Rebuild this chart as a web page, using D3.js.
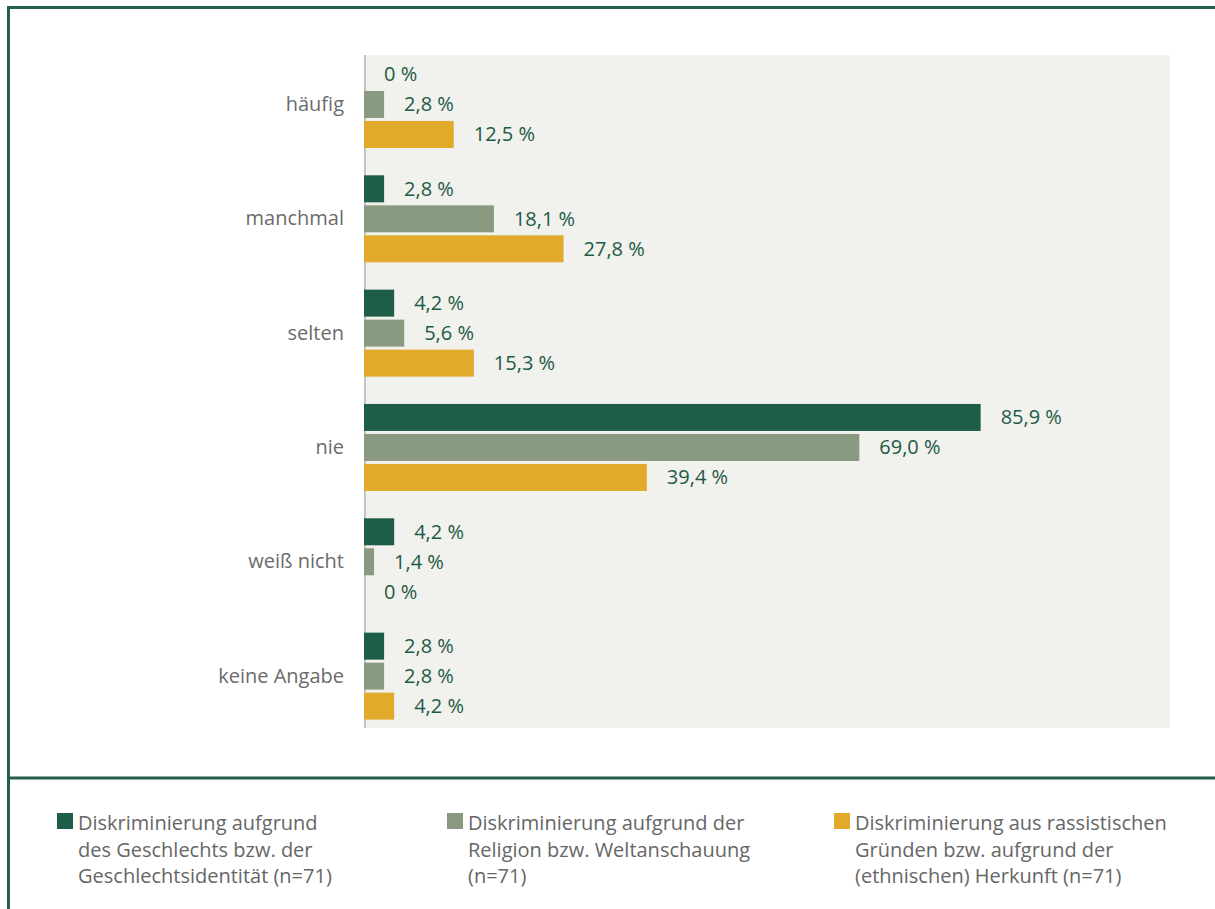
<!DOCTYPE html>
<html>
<head>
<meta charset="utf-8">
<script src="https://cdn.jsdelivr.net/npm/d3@7"></script>
<style>
  body { margin: 0; background: #fff; }
  svg text { font-family: "Open Sans", sans-serif; }
</style>
</head>
<body>
<svg id="chart"></svg>
<script>
const width = 1215, height = 909;

// data
const categories = ["häufig", "manchmal", "selten", "nie", "weiß nicht", "keine Angabe"];
const seriesKeys = ["geschlecht", "religion", "herkunft"];
const geschlecht = [0, 2.8, 4.2, 85.9, 4.2, 2.8];
const religion = [2.8, 18.1, 5.6, 69.0, 1.4, 2.8];
const herkunft = [12.5, 27.8, 15.3, 39.4, 0, 4.2];
const seriesColors = ["#1e5e48", "#8a9a80", "#e2aa2b"];
const legendLabels = [
  ["Diskriminierung aufgrund", "des Geschlechts bzw. der", "Geschlechtsidentität (n=71)"],
  ["Diskriminierung aufgrund der", "Religion bzw. Weltanschauung", "(n=71)"],
  ["Diskriminierung aus rassistischen", "Gründen bzw. aufgrund der", "(ethnischen) Herkunft (n=71)"]
];

const seriesValues = [geschlecht, religion, herkunft];
const rows = [];
categories.forEach((c, i) => {
  seriesKeys.forEach((k, j) => rows.push({ cat: c, key: k, value: seriesValues[j][i], color: seriesColors[j] }));
});

const svg = d3.select("#chart")
  .attr("width", width)
  .attr("height", height);

// frame
const frameColor = "#235f4a";
svg.append("path")
  .attr("d", "M8.5," + height + " V7.5 H" + width)
  .attr("fill", "none")
  .attr("stroke", frameColor)
  .attr("stroke-width", 3);
svg.append("line")
  .attr("x1", 7).attr("x2", width)
  .attr("y1", 778).attr("y2", 778)
  .attr("stroke", frameColor)
  .attr("stroke-width", 3);

// plot area
const plotTop = 55, plotBottom = 728, plotLeft = 364, plotRight = 1170;
svg.append("rect")
  .attr("x", plotLeft).attr("y", plotTop)
  .attr("width", plotRight - plotLeft).attr("height", plotBottom - plotTop)
  .attr("fill", "#f1f1ed");

const x = d3.scaleLinear().domain([0, 112]).range([364, 1168]);
const y = d3.scaleBand().domain(categories).range([47.3, 733.3]);
const ySub = d3.scaleBand().domain(seriesKeys).range([-43.5, 43.5]).paddingInner(0.1);

const fmt = v => v === 0 ? "0 %" : v.toFixed(1).replace(".", ",") + " %";

// axis line (drawn under the bars)
svg.append("line")
  .attr("x1", 365).attr("x2", 365)
  .attr("y1", plotTop).attr("y2", plotBottom)
  .attr("stroke", "#c4c4c4")
  .attr("stroke-width", 2);

// bars
svg.append("g")
  .selectAll("rect")
  .data(rows)
  .join("rect")
  .attr("x", x(0))
  .attr("y", d => y(d.cat) + y.bandwidth() / 2 + ySub(d.key))
  .attr("width", d => x(d.value) - x(0))
  .attr("height", ySub.bandwidth())
  .attr("fill", d => d.color);

// value labels
svg.append("g")
  .selectAll("text")
  .data(rows)
  .join("text")
  .attr("x", d => x(d.value) + 20)
  .attr("y", d => y(d.cat) + y.bandwidth() / 2 + ySub(d.key) + ySub.bandwidth() / 2)
  .attr("dy", "0.35em")
  .attr("font-size", 20)
  .attr("fill", "#1d5a46")
  .text(d => fmt(d.value));

// category axis
const yAxis = svg.append("g")
  .attr("transform", "translate(365,0)")
  .call(d3.axisLeft(y).tickSize(0).tickPadding(21));
yAxis.select(".domain").remove();
yAxis.selectAll("text")
  .attr("font-size", 20)
  .attr("font-family", "Open Sans, sans-serif")
  .attr("fill", "#6b6b6b");

// legend
const legendX = [57, 447, 834];
const legend = svg.append("g")
  .selectAll("g")
  .data(legendLabels)
  .join("g")
  .attr("transform", (d, i) => "translate(" + legendX[i] + ",813)");
legend.append("rect")
  .attr("width", 16).attr("height", 16)
  .attr("fill", (d, i) => seriesColors[i]);
legend.append("text")
  .attr("x", 21)
  .attr("y", 17)
  .attr("font-size", 20)
  .attr("fill", "#666")
  .selectAll("tspan")
  .data(d => d)
  .join("tspan")
  .attr("x", 21)
  .attr("dy", (d, i) => i === 0 ? 0 : 26.5)
  .text(d => d);
</script>
</body>
</html>
